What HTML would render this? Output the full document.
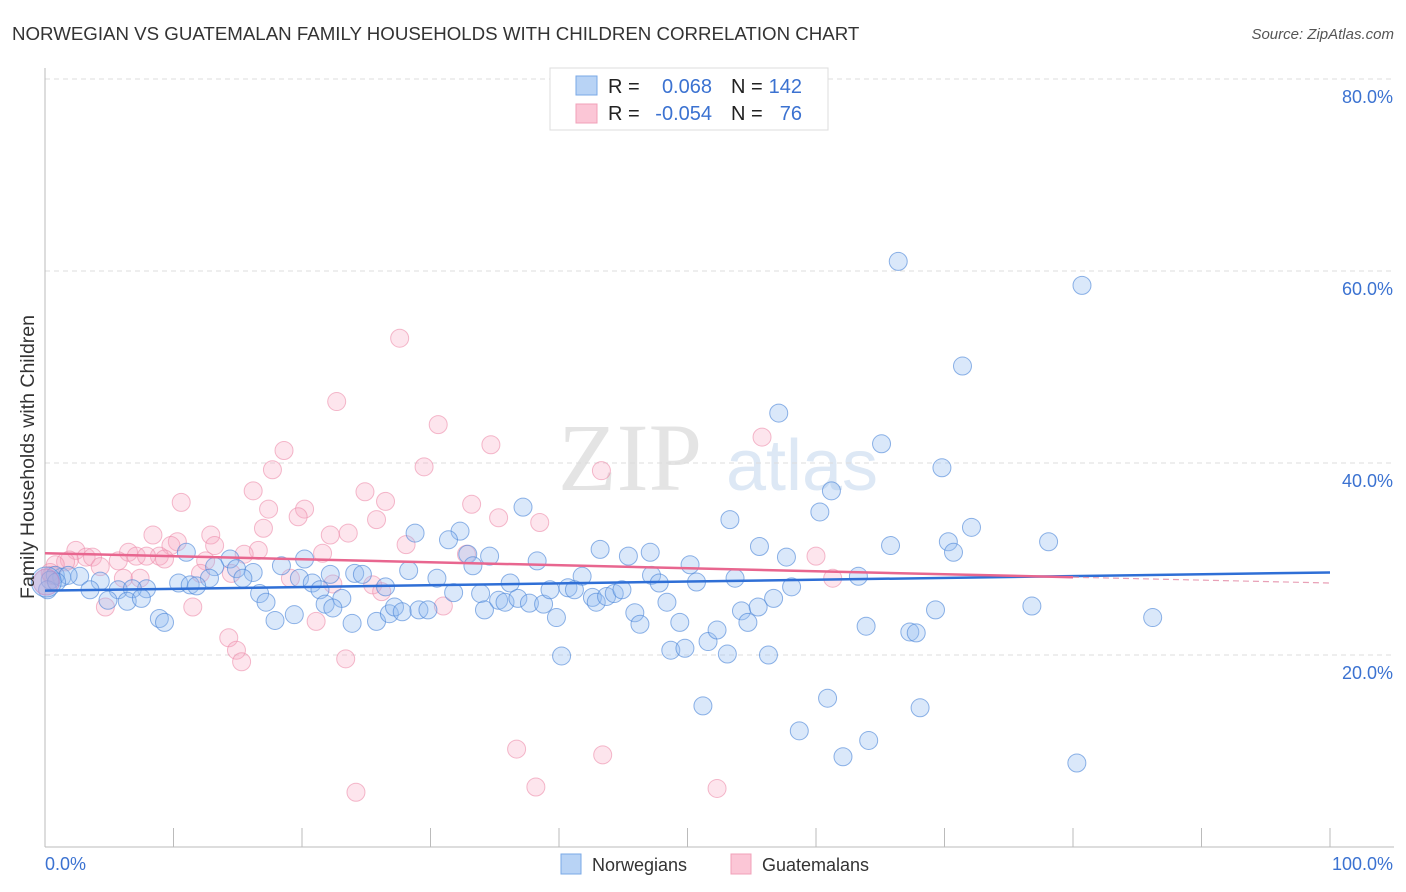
<!DOCTYPE html>
<html><head><meta charset="utf-8"><style>
body{margin:0;background:#fff;font-family:"Liberation Sans",sans-serif}
</style></head><body>
<svg id="chart" width="1406" height="892" xmlns="http://www.w3.org/2000/svg" style="display:block">
<text x="12" y="40" font-size="18.7" fill="#333">NORWEGIAN VS GUATEMALAN FAMILY HOUSEHOLDS WITH CHILDREN CORRELATION CHART</text>
<text x="1394" y="39" font-size="15" fill="#555" text-anchor="end" font-style="italic">Source: ZipAtlas.com</text>
<text x="630" y="490" font-size="96" fill="#e4e4e4" font-family="Liberation Serif" text-anchor="middle">ZIP</text>
<text x="802" y="490" font-size="72" fill="#dde8f5" text-anchor="middle">atlas</text>
<g id="grid"></g><g id="axes"></g><g id="marks"></g>
<text transform="translate(34,457) rotate(-90)" font-size="19.5" fill="#333" text-anchor="middle">Family Households with Children</text>
<g>
<rect x="550" y="68" width="278" height="62" fill="#fff" stroke="#ddd"/>
<rect x="576" y="76" width="21" height="19" fill="#b8d3f5" stroke="#7aa8e6"/>
<rect x="576" y="104" width="21" height="19" fill="#fbc6d6" stroke="#f0a0b8"/>
<text x="608" y="93" font-size="20" fill="#222">R =</text>
<text x="712" y="93" font-size="20" fill="#3b72d1" text-anchor="end">0.068</text>
<text x="731" y="93" font-size="20" fill="#222">N =</text>
<text x="802" y="93" font-size="20" fill="#3b72d1" text-anchor="end">142</text>
<text x="608" y="120" font-size="20" fill="#222">R =</text>
<text x="712" y="120" font-size="20" fill="#3b72d1" text-anchor="end">-0.054</text>
<text x="731" y="120" font-size="20" fill="#222">N =</text>
<text x="802" y="120" font-size="20" fill="#3b72d1" text-anchor="end">76</text>
</g>
<g>
<rect x="561" y="854" width="20" height="20" fill="#b8d3f5" stroke="#7aa8e6"/>
<text x="592" y="871" font-size="18" fill="#333">Norwegians</text>
<rect x="731" y="854" width="20" height="20" fill="#fbc6d6" stroke="#f0a0b8"/>
<text x="762" y="871" font-size="18" fill="#333">Guatemalans</text>
</g>
</svg>
<script>
const yTicks=[20,40,60,80];
const yTickLabels=["20.0%","40.0%","60.0%","80.0%"];
const xTicks=[0,10,20,30,40,50,60,70,80,90,100];
const blueX=[66.4,80.7,71.4,57.1,65.1,69.8,61.2,37.2,60.3,53.3,72.1,28.8,32.3,31.4,78.1,70.3,65.8,70.7,55.6,43.2,47.1,45.4,34.6,32.9,38.3,57.7,50.2,20.2,18.4,14.4,11.0,33.3,28.3,22.2,24.1,24.7,16.2,14.9,13.2,15.4,30.5,41.8,47.2,53.7,63.3,50.7,47.8,36.2,26.5,19.8,20.8,12.8,10.4,11.3,11.8,7.9,4.3,2.7,1.3,0.8,0.4,1.8,3.5,5.7,6.8,4.9,6.4,7.5,8.9,9.3,16.7,17.2,17.9,19.4,21.4,23.1,21.8,22.4,23.9,25.8,26.8,27.2,27.8,29.1,29.8,31.8,33.9,34.2,35.3,35.8,36.8,37.7,38.8,39.3,39.8,40.7,41.2,42.6,42.9,43.7,44.3,44.9,45.9,46.3,48.4,49.4,48.7,49.8,51.6,52.3,53.1,54.2,54.7,55.5,56.7,58.1,40.2,56.3,63.9,67.3,67.8,69.3,76.8,86.2,51.2,60.9,68.1,58.7,64.1,62.1,80.3,0.2,0.9];
const blueY=[61.0,58.5,50.1,45.2,42.0,39.5,37.1,35.4,34.9,34.1,33.3,32.7,32.9,32.0,31.8,31.8,31.4,30.7,31.3,31.0,30.7,30.3,30.3,30.5,29.8,30.2,29.4,30.0,29.3,30.0,30.7,29.3,28.8,28.4,28.5,28.4,28.6,29.0,29.2,28.0,28.0,28.2,28.3,28.0,28.2,27.6,27.5,27.5,27.1,28.0,27.5,28.0,27.5,27.3,27.2,26.9,27.7,28.2,28.1,28.3,27.8,28.3,26.8,26.8,26.9,25.7,25.6,25.9,23.8,23.4,26.4,25.5,23.6,24.2,26.8,25.9,25.3,24.9,23.3,23.5,24.3,25.0,24.5,24.7,24.7,26.5,26.4,24.7,25.7,25.5,25.9,25.4,25.3,26.8,23.9,27.0,26.8,26.0,25.5,26.1,26.4,26.8,24.4,23.2,25.5,23.4,20.5,20.7,21.4,22.6,20.1,24.6,23.4,25.0,25.9,27.1,19.9,20.0,23.0,22.4,22.3,24.7,25.1,23.9,14.7,15.5,14.5,12.1,11.1,9.4,8.75,26.8,27.6];
const pinkX=[27.6,22.7,30.6,34.7,18.6,55.8,29.5,43.3,17.7,16.2,24.9,10.6,26.5,17.4,20.2,33.2,19.7,25.8,35.3,38.5,17.0,8.4,12.9,22.2,23.6,10.3,9.8,13.2,28.1,16.6,15.5,6.5,7.1,8.9,7.9,21.6,2.4,3.2,3.7,1.9,1.6,5.7,9.3,12.5,32.8,60.0,4.3,0.8,12.1,14.5,6.1,19.1,61.3,7.4,0.5,22.4,25.5,26.2,4.7,11.5,31.0,21.1,14.3,14.9,15.3,23.4,36.7,43.4,24.2,38.2,52.3,0.4];
const pinkY=[53.0,46.4,44.0,41.9,41.3,42.7,39.6,39.2,39.3,37.1,37.0,35.9,36.0,35.2,35.2,35.7,34.4,34.1,34.3,33.8,33.2,32.5,32.5,32.5,32.7,31.8,31.4,31.4,31.5,30.9,30.5,30.7,30.3,30.3,30.3,30.6,30.9,30.2,30.2,29.9,29.7,29.8,30.0,29.8,30.5,30.3,29.2,29.4,28.5,28.5,28.0,28.0,28.0,28.0,28.3,27.4,27.3,26.6,25.0,25.0,25.1,23.5,21.8,20.5,19.3,19.6,10.2,9.6,5.7,6.25,6.1,28.6];
const blueBig=[[0.1,27.6]];
const pinkBig=[[0.1,27.6]];
const blueTrend=[[0,26.7],[100,28.6]];
const pinkTrend=[[0,30.6],[80,28.1]];
const pinkTrendDash=[[80,28.1],[100,27.5]];
const NS="http://www.w3.org/2000/svg";
const X=v=>45+v*12.85, Y=v=>847-v*9.6;
function mk(tag,attrs,parent){const e=document.createElementNS(NS,tag);for(const k in attrs)e.setAttribute(k,attrs[k]);parent.appendChild(e);return e;}
const grid=document.getElementById('grid'),axes=document.getElementById('axes'),marks=document.getElementById('marks');
yTicks.forEach((t,i)=>{
 const l=mk('line',{x1:45,x2:1394,y1:Y(t),y2:Y(t),stroke:'#ddd','stroke-dasharray':'5,4'},grid);
 
 
 const tx=mk('text',{x:1393,y:Y(t)+24,'font-size':18,fill:'#3b72d1','text-anchor':'end'},axes);
 tx.textContent=yTickLabels[i];
 
 
});
const ax=mk('line',{x1:45,x2:1394,y1:847,y2:847,stroke:'#bbb'},axes);


const ay=mk('line',{x1:45,x2:45,y1:68,y2:847,stroke:'#bbb'},axes);


xTicks.forEach(t=>{
 const l=mk('line',{x1:X(t),x2:X(t),y1:828,y2:847,stroke:'#bbb'},axes);
 
 
});
const x0=mk('text',{x:45,y:870,'font-size':18,fill:'#3b72d1'},axes);x0.textContent='0.0%';


const x1=mk('text',{x:1393,y:870,'font-size':18,fill:'#3b72d1','text-anchor':'end'},axes);x1.textContent='100.0%';


function pts(xs,ys,fill,stroke,name,r){
 xs.forEach((v,i)=>{const c=mk('circle',{cx:X(v),cy:Y(ys[i]),r:r,fill:fill,stroke:stroke,'stroke-width':1},marks);
 
 });
}
pts(pinkX,pinkY,'rgba(248,170,195,0.3)','rgba(236,140,170,0.6)','guatemalan-point',9);
pts(blueX,blueY,'rgba(150,190,240,0.35)','rgba(70,130,215,0.6)','norwegian-point',9);
pts(blueBig.map(p=>p[0]),blueBig.map(p=>p[1]),'rgba(150,190,240,0.4)','rgba(70,130,215,0.6)','norwegian-point-large',15);
pts(pinkBig.map(p=>p[0]),pinkBig.map(p=>p[1]),'rgba(200,150,200,0.35)','rgba(200,130,190,0.6)','guatemalan-point-large',13);
function line(p,color,name,dash){const l=mk('line',{x1:X(p[0][0]),y1:Y(p[0][1]),x2:X(p[1][0]),y2:Y(p[1][1]),stroke:color,'stroke-width':dash?1.2:2.5},marks);
 if(dash)l.setAttribute('stroke-dasharray','6,4');
 
 }
line(blueTrend,'#2f6fd6','norwegian-trend-line');
line(pinkTrend,'#e8668f','guatemalan-trend-line');
line(pinkTrendDash,'#e8a0b6','guatemalan-trend-extension',true);
</script>
</body></html>
